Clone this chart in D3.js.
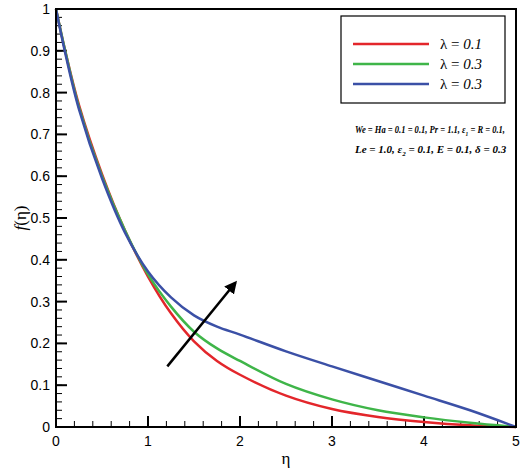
<!DOCTYPE html><html><head><meta charset="utf-8"><script src="https://d3js.org/d3.v7.min.js"></script>
<style>body{margin:0;background:#fff}</style></head><body><svg id="c" width="520" height="469"></svg>
<script>
const eta=[0,0.1,0.25,0.5,0.75,1,1.25,1.5,1.75,2,2.5,3,3.5,4,4.5,5];
const red=[1,0.9,0.77,0.605,0.47,0.36,0.272,0.205,0.158,0.125,0.075,0.043,0.024,0.012,0.004,0];
const green=[1,0.9,0.765,0.6,0.47,0.365,0.288,0.228,0.188,0.158,0.103,0.066,0.04,0.023,0.01,0];
const blue=[1,0.895,0.76,0.595,0.465,0.372,0.31,0.267,0.24,0.221,0.181,0.145,0.11,0.075,0.04,0];
const labels=["λ = 0.1","λ = 0.3","λ = 0.3"];
const colors=["#e3262b","#3fb549","#3b50a6"];
const xTicks=[0,1,2,3,4,5], yTicks=d3.range(0,1.01,0.1);
const svg=d3.select("#c");
const x=d3.scaleLinear([0,5],[56,516]), y=d3.scaleLinear([0,1],[427,9]);
const g=svg.append("g");
d3.range(0,5.01,0.2).forEach(v=>{g.append("line").attr("x1",x(v)).attr("x2",x(v)).attr("y1",427).attr("y2",421).attr("stroke","#000").attr("stroke-width",1);});
d3.range(0,1.001,0.02).forEach(v=>{g.append("line").attr("x1",56).attr("x2",62).attr("y1",y(v)).attr("y2",y(v)).attr("stroke","#000").attr("stroke-width",1);});
xTicks.forEach(v=>{g.append("line").attr("x1",x(v)).attr("x2",x(v)).attr("y1",427).attr("y2",416).attr("stroke","#000").attr("stroke-width",2);
 g.append("text").attr("x",x(v)).attr("y",446).attr("text-anchor","middle").attr("font-family","Liberation Sans").attr("font-size",14).text(v);});
yTicks.forEach(v=>{g.append("line").attr("x1",56).attr("x2",67).attr("y1",y(v)).attr("y2",y(v)).attr("stroke","#000").attr("stroke-width",2);
 g.append("text").attr("x",50).attr("y",y(v)+5).attr("text-anchor","end").attr("font-family","Liberation Sans").attr("font-size",14).text(+v.toFixed(1));});
const line=d3.line().x((d,i)=>x(eta[i])).y(d=>y(d)).curve(d3.curveCatmullRom.alpha(0.5));
[red,green,blue].forEach((s,i)=>svg.append("path").attr("d",line(s)).attr("fill","none").attr("stroke",colors[i]).attr("stroke-width",2.5));
svg.append("rect").attr("x",56).attr("y",9).attr("width",460).attr("height",418).attr("fill","none").attr("stroke","#000").attr("stroke-width",2);
svg.append("rect").attr("x",341).attr("y",16).attr("width",164).attr("height",87).attr("fill","#fff").attr("stroke","#000").attr("stroke-width",1.2);
labels.forEach((l,i)=>{const yy=44+i*20;
 svg.append("line").attr("x1",353).attr("x2",429).attr("y1",yy).attr("y2",yy).attr("stroke",colors[i]).attr("stroke-width",2.5);
 const t=svg.append("text").attr("x",440).attr("y",yy+5).attr("font-family","Liberation Serif").attr("font-size",15);
 t.append("tspan").text("λ = ");t.append("tspan").attr("font-style","italic").text(l.slice(4));});
const ann=svg.append("g").attr("font-family","Liberation Serif").attr("font-weight","bold").attr("font-style","italic").attr("font-size",11);
const t1=ann.append("text").attr("x",355).attr("y",133).attr("textLength",150).attr("lengthAdjust","spacingAndGlyphs");
t1.append("tspan").text("We = Ha = 0.1 = 0.1, Pr = 1.1, ε");t1.append("tspan").attr("font-size",7).attr("dy",3).text("1");t1.append("tspan").attr("dy",-3).text(" = R = 0.1,");
const t2=ann.append("text").attr("x",355).attr("y",153).attr("textLength",88*1.0+0).attr("lengthAdjust","spacingAndGlyphs");
t2.attr("textLength",null);
t2.append("tspan").text("Le = 1.0, ε");t2.append("tspan").attr("font-size",7).attr("dy",3).text("2");t2.append("tspan").attr("dy",-3).text(" = 0.1,  E = 0.1, δ = 0.3");
svg.append("defs").append("marker").attr("id","ah").attr("viewBox","0 0 10 10").attr("refX",8).attr("refY",5).attr("markerWidth",5).attr("markerHeight",5).attr("orient","auto").append("path").attr("d","M0,0L10,5L0,10z");
svg.append("line").attr("x1",x(1.21)).attr("y1",y(0.145)).attr("x2",x(1.95)).attr("y2",y(0.345)).attr("stroke","#000").attr("stroke-width",2.5).attr("marker-end","url(#ah)");
svg.append("text").attr("x",x(2.5)).attr("y",464).attr("text-anchor","middle").attr("font-family","Liberation Serif").attr("font-size",17).text("η");
svg.append("text").attr("transform","translate(26,218) rotate(-90)").attr("text-anchor","middle").attr("font-family","Liberation Serif").attr("font-size",17).html('<tspan font-style="italic">f</tspan>(η)');
</script></body></html>
